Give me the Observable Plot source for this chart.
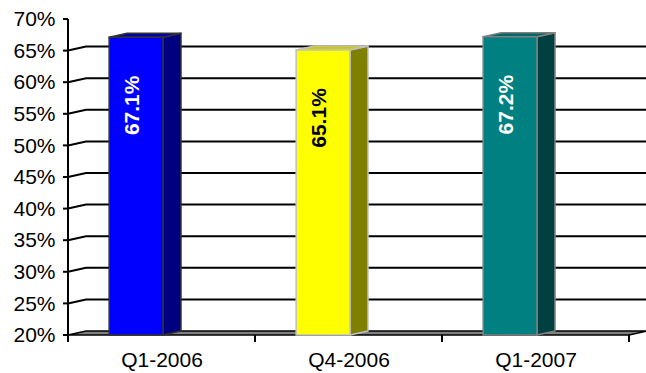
<!DOCTYPE html>
<html>
<head>
<meta charset="utf-8">
<script src="https://cdn.jsdelivr.net/npm/d3@7"></script>
<script src="https://cdn.jsdelivr.net/npm/@observablehq/plot@0.6"></script>
<style>
  html, body { margin: 0; padding: 0; background: #fff; }
  #chart { width: 646px; height: 373px; overflow: hidden; }
</style>
</head>
<body>
<div id="chart"></div>
<script>
const categories = ["Q1-2006", "Q4-2006", "Q1-2007"];
const values = [0.671, 0.651, 0.672];
const valueLabels = ["67.1%", "65.1%", "67.2%"];
const frontColors = ["#0000ff", "#ffff00", "#008080"];
const sideColors = ["#000080", "#808000", "#004040"];
const topColors = ["#0000b0", "#cccc00", "#006666"];
const edgeColors = ["#333333", "#c0c0c0", "#808080"];
const labelColors = ["#ffffff", "#000000", "#ffffff"];
const yTicks = [0.2, 0.25, 0.3, 0.35, 0.4, 0.45, 0.5, 0.55, 0.6, 0.65, 0.7];
const gridTicks = [0.25, 0.3, 0.35, 0.4, 0.45, 0.5, 0.55, 0.6, 0.65];

const data = categories.map((c, i) => ({
  cat: c, value: values[i], label: valueLabels[i],
  front: frontColors[i], side: sideColors[i], top: topColors[i],
  edge: edgeColors[i], labelColor: labelColors[i]
}));

// 3D depth offsets (pixels)
const DX = 18, DY = -4;

function scene(index, scales) {
  const x = scales.x, y = scales.y;
  const bw = x.bandwidth();
  const xs = categories.map(c => x(c));
  const left = xs[0];
  const right = xs[xs.length - 1] + bw;
  const base = y(0.2);
  const g = d3.create("svg:g");
  const pts = a => a.map(p => p.join(",")).join(" ");

  // back wall gridlines
  for (const t of gridTicks) {
    const yy = y(t);
    g.append("polyline")
      .attr("points", pts([[left, yy], [left + DX, yy + DY], [right + DX, yy + DY]]))
      .attr("fill", "none").attr("stroke", "#000").attr("stroke-width", 2);
  }
  // floor
  g.append("polygon")
    .attr("points", pts([[left, base], [left + DX, base + DY], [right + DX, base + DY], [right, base]]))
    .attr("fill", "#808080").attr("stroke", "#000").attr("stroke-width", 1.5);

  // bars
  for (const d of data) {
    const x0 = x(d.cat) + bw * 0.22;
    const x1 = x0 + bw * 0.288;
    const yt = y(d.value);
    g.append("polygon")
      .attr("points", pts([[x1, base], [x1, yt], [x1 + DX, yt + DY], [x1 + DX, base + DY]]))
      .attr("fill", d.side).attr("stroke", d.edge).attr("stroke-width", 1.5).attr("stroke-linejoin", "round");
    g.append("polygon")
      .attr("points", pts([[x0, yt], [x0 + DX, yt + DY], [x1 + DX, yt + DY], [x1, yt]]))
      .attr("fill", d.top).attr("stroke", d.edge).attr("stroke-width", 1.5).attr("stroke-linejoin", "round");
    g.append("rect")
      .attr("x", x0).attr("y", yt).attr("width", x1 - x0).attr("height", base - yt)
      .attr("fill", d.front).attr("stroke", d.edge).attr("stroke-width", 1.5);
    g.append("text")
      .attr("transform", `translate(${(x0 + x1) / 2 - 4},${yt + 68}) rotate(-90)`)
      .attr("text-anchor", "middle").attr("dy", "0.35em")
      .attr("font-weight", "bold").attr("font-size", 21)
      .attr("fill", d.labelColor)
      .text(d.label);
  }

  // y axis line and ticks
  g.append("line")
    .attr("x1", left).attr("x2", left).attr("y1", y(0.7)).attr("y2", base + 7)
    .attr("stroke", "#000").attr("stroke-width", 2);
  for (const t of yTicks) {
    g.append("line")
      .attr("x1", left - 5).attr("x2", left).attr("y1", y(t)).attr("y2", y(t))
      .attr("stroke", "#000").attr("stroke-width", 2);
  }
  // x axis ticks at band boundaries
  for (const xv of xs) {
    g.append("line")
      .attr("x1", xv + bw).attr("x2", xv + bw).attr("y1", base).attr("y2", base + 7)
      .attr("stroke", "#000").attr("stroke-width", 2);
  }
  return g.node();
}

const chart = Plot.plot({
  width: 646,
  height: 373,
  marginLeft: 67,
  marginRight: 17,
  marginTop: 19,
  marginBottom: 38,
  style: {
    fontFamily: "Arial, 'Liberation Sans', sans-serif",
    fontSize: "21px",
    background: "#fff",
    color: "#000",
    overflow: "visible"
  },
  x: { type: "band", domain: categories, padding: 0, tickSize: 0, tickPadding: 17, label: null },
  y: { domain: [0.2, 0.7], ticks: yTicks, tickFormat: d3.format(".0%"), tickSize: 0, tickPadding: 12, label: null },
  marks: [scene]
});
document.getElementById("chart").appendChild(chart);
</script>
</body>
</html>
